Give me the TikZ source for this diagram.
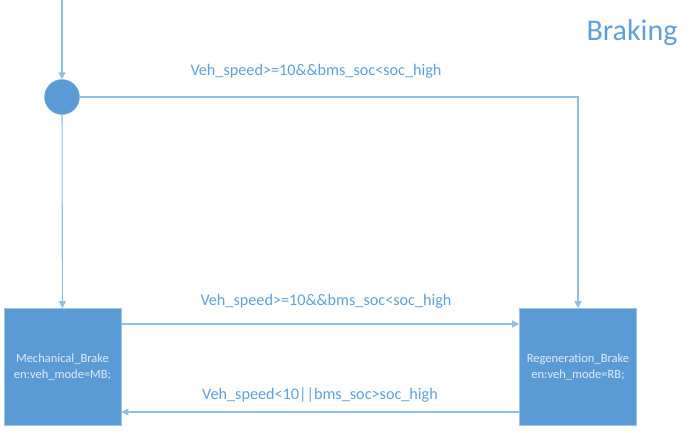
\documentclass[tikz,border=0pt]{standalone}
\usepackage{fontspec}
\setmainfont{Carlito}
\usetikzlibrary{arrows.meta, positioning, calc}
\definecolor{stateblue}{RGB}{91,155,213}
\definecolor{lineblue}{RGB}{145,190,230}
\definecolor{textblue}{RGB}{95,160,220}
\definecolor{boxtext}{RGB}{222,235,247}

\tikzset{
  flow/.style={draw=lineblue, line width=1.1pt, -{Triangle[length=7pt,width=7pt]}},
  statebox/.style={rectangle, fill=stateblue, draw=stateblue!60!white, line width=0.6pt,
    minimum width=117pt, minimum height=117pt, align=center, text=boxtext,
    font=\fontsize{12.5}{15.5}\selectfont, inner sep=0pt},
  junction/.style={circle, fill=stateblue, draw=stateblue!80!white, minimum size=35pt, inner sep=0pt},
  guard/.style={text=textblue, font=\fontsize{16.2}{18}\selectfont}
}

\begin{document}
\begin{tikzpicture}[x=1pt, y=-1pt]
  \useasboundingbox (0,0) rectangle (696,433);
  % initial transition and junction
  \coordinate (start) at (62,0);
  \node[junction] (junc) at (62,97) {};
  \coordinate (corner) at (578,97);
  % states
  \node[statebox] (mech) at (62.5,367) {Mechanical\_Brake\\en:veh\_mode=MB;};
  \node[statebox] (regen) at (578,367) {Regeneration\_Brake\\en:veh\_mode=RB;};
  % connectors
  \draw[flow] (start) -- (junc);
  \draw[flow] (junc) -- (mech);
  \draw[flow] (junc.east) -- (corner) -- (regen);
  \draw[flow] ([yshift=43pt]mech.east) -- ([yshift=43pt]regen.west);
  \draw[flow] ([yshift=-45pt]regen.west) -- ([yshift=-45pt]mech.east);
  % labels
  \node[guard] (g1) at (316,71) {Veh\_speed>=10\&\&bms\_soc<soc\_high};
  \node[guard] (g2) at (326,301) {Veh\_speed>=10\&\&bms\_soc<soc\_high};
  \node[guard] (g3) at (320,395) {Veh\_speed<10||bms\_soc>soc\_high};
  \node[text=textblue, font=\fontsize{30}{33}\selectfont] (title) at (632,33) {Braking};
\end{tikzpicture}
\end{document}
